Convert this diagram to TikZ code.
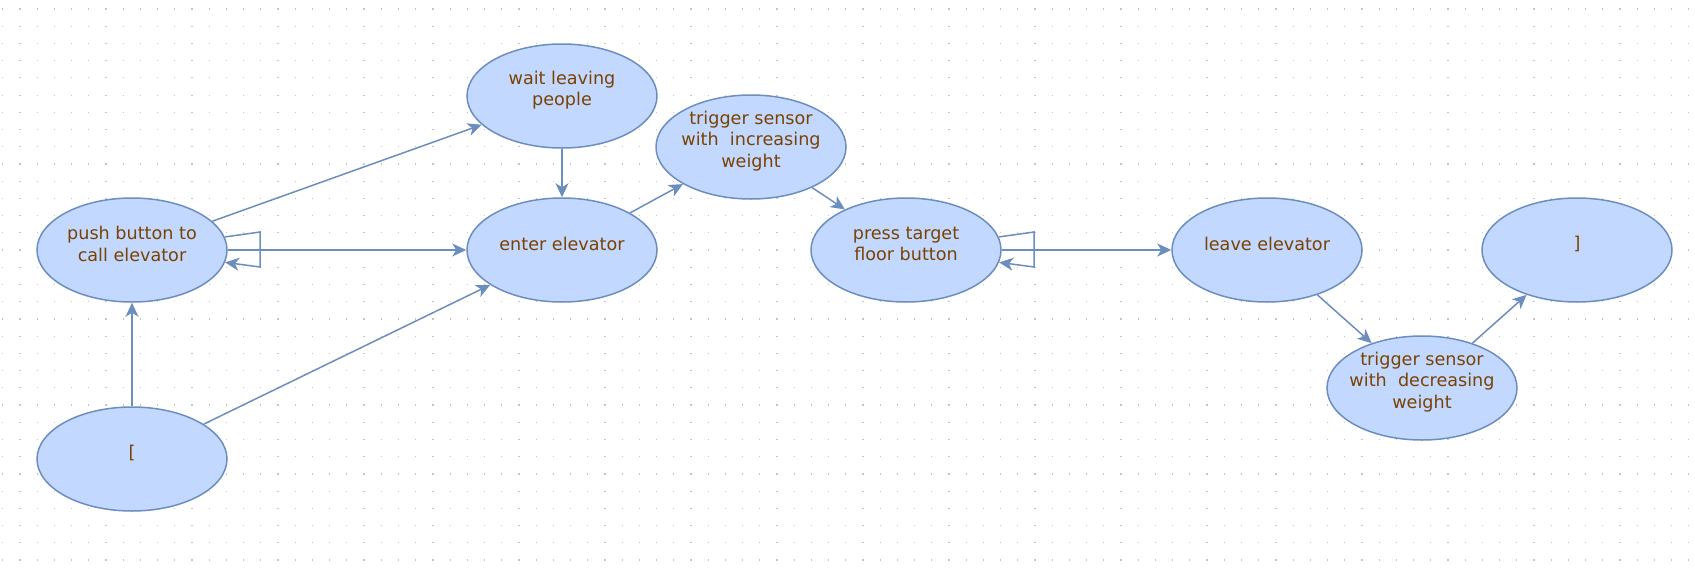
\documentclass[tikz,border=0pt]{standalone}
\usepackage{fontspec}
\setmainfont{DejaVu Sans}
\usetikzlibrary{arrows.meta}
\usetikzlibrary{shapes.geometric}
\definecolor{fillblue}{HTML}{C3D8FF}
\definecolor{lineblue}{HTML}{6C8EBF}
\definecolor{textbrown}{HTML}{7A4200}
\definecolor{dotgrey}{HTML}{C4C4C4}
\tikzset{
	state/.style={ellipse, draw=lineblue, fill=fillblue, line width=1.5pt,
		minimum width=190pt, minimum height=104pt, inner sep=0pt,
		label={[statetext]center:#1}},
	statetext/.style={align=center, text=textbrown, yshift=6pt,
		font=\fontsize{17.6}{21.5}\selectfont},
	flow/.style={draw=lineblue, line width=1.5pt,
		-{Stealth[length=14pt,width=13pt,inset=4pt]}},
	griddot/.style={draw=dotgrey, line width=1.2pt, dash pattern=on 1.2pt off 16.004pt}
}

\begin{document}
\begin{tikzpicture}[x=1pt,y=-1pt]
	\useasboundingbox (0,0) rectangle (1695,576);
	% dotted background
	\foreach \j in {0,...,32}
		\draw[griddot] (2.2,9+\j*17.22) -- (1690,9+\j*17.22);
	% states
	\node[state={{[}}] (start) at (132,459) {};
	\node[state={push button to\\call elevator}] (push) at (132,250) {};
	\node[state={wait leaving\\people}] (wait) at (562,96) {};
	\node[state={enter elevator}] (enter) at (562,250) {};
	\node[state={trigger sensor\\with\ \ increasing\\weight}] (sensorup) at (751,147) {};
	\node[state={press target\\floor button}] (press) at (906,250) {};
	\node[state={leave elevator}] (leave) at (1267,250) {};
	\node[state={trigger sensor\\with\ \ decreasing\\weight}] (sensordown) at (1422,388) {};
	\node[state={{]}}] (finish) at (1577,250) {};
	% transitions
	\draw[flow] (start) -- (push);
	\draw[flow] (start) -- (enter);
	\draw[flow] (push) -- (wait);
	\draw[flow] (push) -- (enter);
	\draw[flow] (push) -- ++(128,-18) -- ++(0,35) -- (push);
	\draw[flow] (wait) -- (enter);
	\draw[flow] (enter) -- (sensorup);
	\draw[flow] (sensorup) -- (press);
	\draw[flow] (press) -- ++(128,-18) -- ++(0,35) -- (press);
	\draw[flow] (press) -- (leave);
	\draw[flow] (leave) -- (sensordown);
	\draw[flow] (sensordown) -- (finish);
\end{tikzpicture}
\end{document}
